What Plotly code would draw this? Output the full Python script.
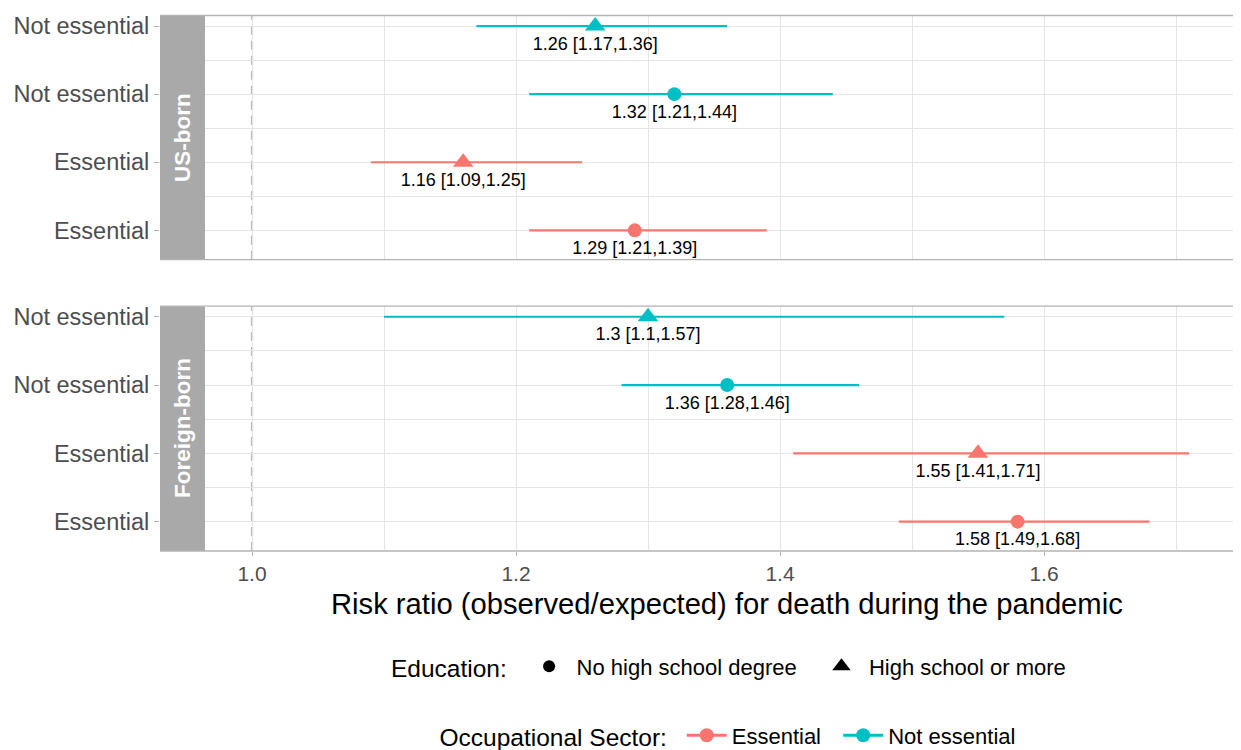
import plotly.graph_objects as go

# ---- data ----
panels = ["US-born"] * 4 + ["Foreign-born"] * 4
sectors = ["Not essential", "Not essential", "Essential", "Essential"] * 2
education = ["High school or more", "No high school degree"] * 4
rr = [1.26, 1.32, 1.16, 1.29, 1.30, 1.36, 1.55, 1.58]
lo = [1.17, 1.21, 1.09, 1.21, 1.10, 1.28, 1.41, 1.49]
hi = [1.36, 1.44, 1.25, 1.39, 1.57, 1.46, 1.71, 1.68]
labels = ["1.26 [1.17,1.36]", "1.32 [1.21,1.44]", "1.16 [1.09,1.25]", "1.29 [1.21,1.39]",
          "1.3 [1.1,1.57]", "1.36 [1.28,1.46]", "1.55 [1.41,1.71]", "1.58 [1.49,1.68]"]
panel_order = ["US-born", "Foreign-born"]
ytick_text = ["Essential", "Essential", "Not essential", "Not essential"]
x_ticks = [1.0, 1.2, 1.4, 1.6]
x_tick_text = ["1.0", "1.2", "1.4", "1.6"]
x_minor = [1.1, 1.3, 1.5, 1.7]
edu_legend = ["No high school degree", "High school or more"]
sector_legend = ["Essential", "Not essential"]

sector_colors = {"Essential": "#F8766D", "Not essential": "#00BFC4"}
edu_symbols = {"No high school degree": "circle", "High school or more": "triangle-up"}
edu_sizes = {"No high school degree": 14, "High school or more": 18}

# page offset (browser body margin)
OX, OY = 8, 8
W, H = 1241 - OX, 750 - OY
FONT = "Liberation Sans, Arial, Helvetica, sans-serif"

# geometry (reference pixels)
xl, xr = 160, 1241
strip_r = 205
panels_px = {"US-born": (15.5, 259.5), "Foreign-born": (306, 550.7)}
px_per_unit = 1320.0
x0_px = 252.0
xrange = [1 + (xl - x0_px) / px_per_unit, 1 + (xr - x0_px) / px_per_unit]
yrange = [-0.43, 3.155]

# plot area: full width, from page top to bottom of lower panel
HP = panels_px["Foreign-born"][1] - OY
MB = H - HP

def fx(p):  # reference pixel x -> paper
    return (p - OX) / W

def fy(p):  # reference pixel y -> paper
    return 1 - (p - OY) / HP

fig = go.Figure()

axis_of = {"US-born": ("x", "y"), "Foreign-born": ("x2", "y2")}
counters = {p: 0 for p in panel_order}
for i in range(len(rr)):
    p = panels[i]
    ypos = 3 - counters[p]
    counters[p] += 1
    xa, ya = axis_of[p]
    col = sector_colors[sectors[i]]
    fig.add_trace(go.Scatter(
        x=[rr[i]], y=[ypos], xaxis=xa, yaxis=ya, mode="markers",
        marker=dict(color=col, symbol=edu_symbols[education[i]], size=edu_sizes[education[i]],
                    line=dict(width=0)),
        error_x=dict(type="data", symmetric=False, array=[hi[i] - rr[i]],
                     arrayminus=[rr[i] - lo[i]], color=col, thickness=2.2, width=0),
        showlegend=False, hoverinfo="skip"))
    fig.add_trace(go.Scatter(
        x=[rr[i]], y=[ypos - 0.28], xaxis=xa, yaxis=ya, mode="text",
        text=[labels[i]], textfont=dict(size=18, color="black", family=FONT),
        textposition="middle center", showlegend=False, hoverinfo="skip"))

# legend entries
for k, edu in enumerate(edu_legend):
    nm = edu + ("\u00a0\u00a0" if k == 0 else "")
    fig.add_trace(go.Scatter(
        x=[None], y=[None], mode="markers", name=nm, legend="legend",
        marker=dict(color="black", symbol=edu_symbols[edu], size=edu_sizes[edu] - 2)))
for k, sec in enumerate(sector_legend):
    nm = sec + ("\u00a0\u00a0" if k == 0 else "")
    fig.add_trace(go.Scatter(
        x=[None], y=[None], mode="lines+markers", name=nm, legend="legend2",
        line=dict(color=sector_colors[sec], width=3),
        marker=dict(color=sector_colors[sec], symbol="circle", size=14)))

grid = "#E5E5E5"
common_x = dict(range=xrange, domain=[fx(xl), 1], showgrid=True, gridcolor=grid,
                gridwidth=1.3, tickvals=x_ticks, ticktext=x_tick_text, zeroline=False, showline=False,
                minor=dict(tickvals=x_minor, showgrid=True, gridcolor=grid, gridwidth=1.0, ticks=""),
                fixedrange=True, automargin=False)
common_y = dict(range=yrange, tickvals=[0, 1, 2, 3], ticktext=ytick_text, showgrid=True,
                gridcolor=grid, gridwidth=1.3, zeroline=False, showline=False,
                ticks="outside", ticklen=5, tickcolor="#B3B3B3", tickwidth=1.2,
                tickfont=dict(size=23.5, color="#4D4D4D", family=FONT),
                minor=dict(tickvals=[0.5, 1.5, 2.5], showgrid=True, gridcolor=grid, gridwidth=1.0, ticks=""),
                fixedrange=True, automargin=False)

t1, b1 = panels_px["US-born"]
t2, b2 = panels_px["Foreign-born"]
fig.update_layout(
    xaxis=dict(common_x, anchor="y", showticklabels=False),
    yaxis=dict(common_y, anchor="x", domain=[fy(b1), min(1, fy(t1))]),
    xaxis2=dict(common_x, anchor="y2", showticklabels=True, ticks="outside", ticklen=4,
                tickcolor="#B3B3B3", tickfont=dict(size=21, color="#4D4D4D", family=FONT)),
    yaxis2=dict(common_y, anchor="x2", domain=[fy(b2), fy(t2)]),
)

shapes = []
annotations = []
for p in panel_order:
    t, b = panels_px[p]
    xa, ya = axis_of[p]
    shapes.append(dict(type="rect", xref="paper", yref="paper", x0=fx(xl), x1=fx(strip_r),
                       y0=fy(b), y1=fy(t), fillcolor="#A9A9A9", line=dict(width=0), layer="above"))
    for yy in (t, b):
        shapes.append(dict(type="line", xref="paper", yref="paper", x0=fx(xl), x1=1,
                           y0=fy(yy), y1=fy(yy), line=dict(color="#B3B3B3", width=1.4), layer="above"))
    shapes.append(dict(type="line", xref=xa, yref=ya + " domain", x0=1, x1=1, y0=0, y1=1,
                       line=dict(color="#BBBBBB", width=2.2, dash="9px,6px"), layer="below"))
    annotations.append(dict(text="<b>%s</b>" % p, xref="paper", yref="paper",
                            x=fx((xl + strip_r) / 2), y=fy((t + b) / 2), showarrow=False,
                            textangle=-90, font=dict(size=22.5, color="white", family=FONT),
                            xanchor="center", yanchor="middle"))

annotations.append(dict(text="Risk ratio (observed/expected) for death during the pandemic",
                        xref="paper", yref="paper", x=fx((strip_r + xr) / 2 + 4), y=fy(604),
                        showarrow=False, font=dict(size=29.2, color="black", family=FONT),
                        xanchor="center", yanchor="middle"))

fig.update_layout(
    width=W, height=H, margin=dict(l=0, r=0, t=0, b=MB, autoexpand=False),
    paper_bgcolor="white", plot_bgcolor="white",
    font=dict(family=FONT, color="black"),
    shapes=shapes, annotations=annotations,
    legend=dict(orientation="h", x=fx(730), xanchor="center", y=fy(666), yanchor="middle",
                itemwidth=45,
                title=dict(text="Education: ", font=dict(size=24.5, color="black")),
                font=dict(size=22, color="black"), bgcolor="rgba(0,0,0,0)"),
    legend2=dict(orientation="h", x=fx(729), xanchor="center", y=fy(735), yanchor="middle",
                 itemwidth=40,
                 title=dict(text="Occupational Sector: ", font=dict(size=24.5, color="black")),
                 font=dict(size=22, color="black"), bgcolor="rgba(0,0,0,0)"),
)

fig.write_html("out.html")
